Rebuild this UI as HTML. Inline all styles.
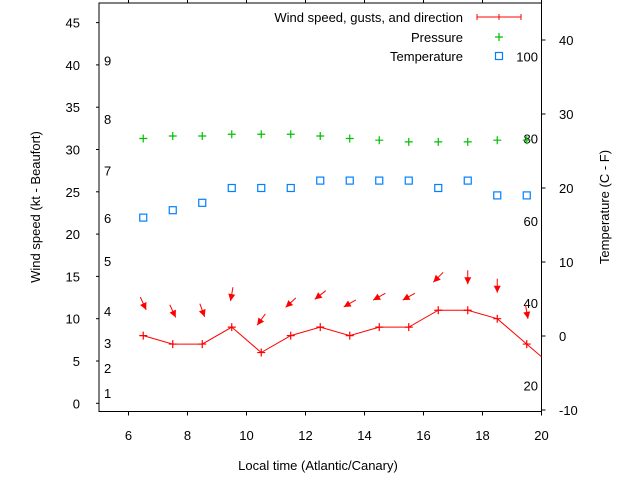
<!DOCTYPE html>
<html><head><meta charset="utf-8"><style>
body{margin:0;background:#fff;}
svg text{font-family:"Liberation Sans",sans-serif;font-size:13px;fill:#000;}
</style></head><body>
<svg id="chart" width="640" height="480" viewBox="0 0 640 480" xmlns="http://www.w3.org/2000/svg"></svg>
<script>
const hours = [6.5,7.5,8.5,9.5,10.5,11.5,12.5,13.5,14.5,15.5,16.5,17.5,18.5,19.5,20.5];
const windSpeed = [8,7,7,9,6,8,9,8,9,9,11,11,10,7,4];
const gustHours = [6.5,7.5,8.5,9.5,10.5,11.5,12.5,13.5,14.5,15.5,16.5,17.5,18.5,19.5];
const gusts = [11.8,10.9,11.0,12.9,9.9,11.9,12.8,11.8,12.6,12.6,14.9,14.9,13.9,10.8];
const windDir = [335,335,340,10,36,47,52,60,61,61,45,0,0,350];
const pressure = [31.3,31.6,31.6,31.8,31.8,31.8,31.6,31.3,31.1,30.9,30.9,30.9,31.1,31.1];
const tempC = [16,17,18,20,20,20,21,21,21,21,20,21,19,19];
const xTicks = [6,8,10,12,14,16,18,20];
const yTicks = [0,5,10,15,20,25,30,35,40,45];
const y2Ticks = [-10,0,10,20,30,40];
const fTicks = [20,40,60,80,100];
const beaufortLabels = [1,2,3,4,5,6,7,8,9];
const beaufortPos = [1.2,4.2,7.1,10.9,16.8,21.9,27.5,33.6,40.5];

const L=99,R=541.5,T=3,B=411.5;
const X=v=>L+(v-5)*(R-L)/15;
const Y=v=>403.3-v*8.46;
const Y2=v=>336-v*7.4;
const svg=document.getElementById('chart');
const NS='http://www.w3.org/2000/svg';
function mk(tag,attrs,parent){const e=document.createElementNS(NS,tag);for(const k in attrs)e.setAttribute(k,attrs[k]);(parent||svg).appendChild(e);return e;}
function txt(x,y,s,anchor){const t=mk('text',{x:x,y:y,'text-anchor':anchor||'start'});t.textContent=s;return t;}

// clip
const defs=mk('defs',{});
const cp=mk('clipPath',{id:'clip'},defs);
mk('rect',{x:L,y:T,width:R-L,height:B-T},cp);

// frame
const frame=mk('rect',{x:L,y:T,width:R-L,height:B-T,fill:'none',stroke:'#000','stroke-width':1});



xTicks.forEach(v=>{
  const x=X(v);
  const t=mk('line',{x1:x,x2:x,y1:B,y2:B+4,stroke:'#000'});
  
  
  mk('line',{x1:x,x2:x,y1:T,y2:T-3,stroke:'#000'});
  const l=txt(x,440,String(v),'middle');
  
  
});
yTicks.forEach(v=>{
  const y=Y(v);
  const t=mk('line',{x1:L-3,x2:L,y1:y,y2:y,stroke:'#000'});
  
  
  const l=txt(80,y+5,String(v),'end');
  
  
});
y2Ticks.forEach(v=>{
  const y=Y2(v);
  const t=mk('line',{x1:R,x2:R+4,y1:y,y2:y,stroke:'#000'});
  
  
  const l=txt(559,y+5,String(v),'start');
  
  
});
fTicks.forEach(v=>{
  const c=(v-32)*5/9;
  const l=txt(538,Y2(c)+5,String(v),'end');
  
  
});
beaufortLabels.forEach((b,i)=>{
  const l=txt(104,Y(beaufortPos[i])+5,String(b),'start');
  
  
});

const g=mk('g',{'clip-path':'url(#clip)'});



// wind line
const pts=hours.map((h,i)=>X(h)+','+Y(windSpeed[i])).join(' ');
const wl=mk('polyline',{points:pts,fill:'none',stroke:'#f00','stroke-width':1},g);


hours.forEach((h,i)=>{
  const x=X(h),y=Y(windSpeed[i]);
  const p=mk('path',{d:`M${x-4},${y}h8M${x},${y-4}v8`,stroke:'#f00','stroke-width':1.2},g);
  
  
});
// gust arrows
gustHours.forEach((h,i)=>{
  const cx=X(h),cy=Y(gusts[i]);
  const a=windDir[i]*Math.PI/180;
  const dx=-Math.sin(a),dy=Math.cos(a); // downwind in screen coords
  const len=14;
  const x1=cx-dx*len/2,y1=cy-dy*len/2,x2=cx+dx*len/2,y2=cy+dy*len/2;
  const grp=mk('g',{},g);
  
  
  mk('line',{x1:x1,y1:y1,x2:x2,y2:y2,stroke:'#f00','stroke-width':1},grp);
  const px=-dy,py=dx,hl=7,hw=3.5;
  const bx=x2-dx*hl,by=y2-dy*hl;
  mk('polygon',{points:`${x2},${y2} ${bx+px*hw},${by+py*hw} ${bx-px*hw},${by-py*hw}`,fill:'#f00'},grp);
});
// pressure
gustHours.forEach((h,i)=>{
  const x=X(h),y=Y(pressure[i]);
  const p=mk('path',{d:`M${x-4},${y}h8M${x},${y-4}v8`,stroke:'#00c000','stroke-width':1.2},g);
  
  
});
// temperature
gustHours.forEach((h,i)=>{
  const x=X(h),y=Y2(tempC[i]);
  const r=mk('rect',{x:x-3.5,y:y-3.5,width:7,height:7,fill:'none',stroke:'#0080ff','stroke-width':1.2},g);
  
  
});

// legend
const lg=mk('g',{});


const l1=txt(463,22,'Wind speed, gusts, and direction','end');lg.appendChild(l1);
mk('path',{d:'M477,17h44M477,14v6M499,14v6M521,14v6',stroke:'#f00','stroke-width':1},lg);
const l2=txt(463,42,'Pressure','end');lg.appendChild(l2);
mk('path',{d:'M495,37h8M499,33v8',stroke:'#00c000','stroke-width':1.2},lg);
const l3=txt(463,61,'Temperature','end');lg.appendChild(l3);
mk('rect',{x:495.5,y:52.5,width:7,height:7,fill:'none',stroke:'#0080ff','stroke-width':1.2},lg);

// axis titles
const xt=txt(318,470,'Local time (Atlantic/Canary)','middle');


const yt=txt(0,0,'Wind speed (kt - Beaufort)','middle');
yt.setAttribute('transform','translate(40,207) rotate(-90)');


const y2t=txt(0,0,'Temperature (C - F)','middle');
y2t.setAttribute('transform','translate(609,207) rotate(-90)');


</script>
</body></html>
